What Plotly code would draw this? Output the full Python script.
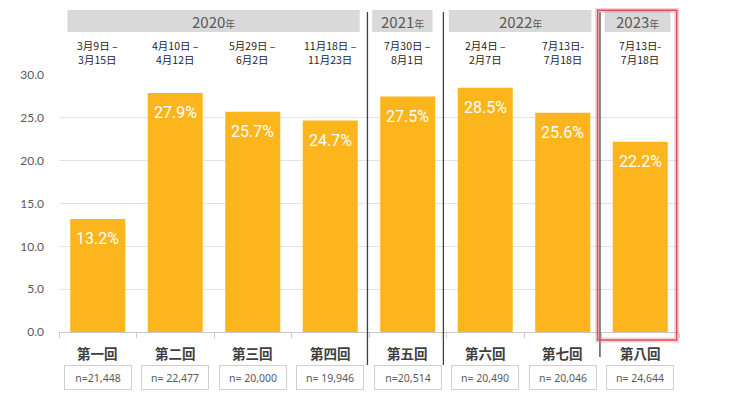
import plotly.graph_objects as go

categories = ["第一回", "第二回", "第三回", "第四回", "第五回", "第六回", "第七回", "第八回"]
values = [13.2, 27.9, 25.7, 24.7, 27.5, 28.5, 25.6, 22.2]
n_labels = ["n=21,448", "n= 22,477", "n= 20,000", "n= 19,946", "n=20,514", "n= 20,490", "n= 20,046", "n= 24,644"]
date_labels = ["3月9日 –<br>3月15日", "4月10日 –<br>4月12日", "5月29日 –<br>6月2日", "11月18日 –<br>11月23日",
               "7月30日 –<br>8月1日", "2月4日 –<br>2月7日", "7月13日-<br>7月18日", "7月13日-<br>7月18日"]
years = ["2020", "2021", "2022", "2023"]

BAR = "#FDB51E"
FONT = "Noto Sans CJK JP"

x_idx = list(range(len(categories)))

fig = go.Figure()
fig.add_trace(go.Bar(
    x=x_idx, y=values, marker_color=BAR, marker_line_width=0,
    hoverinfo="skip", showlegend=False,
))

annotations = []
shapes = []

for i, v in enumerate(values):
    annotations.append(dict(x=i, y=v, xref="x", yref="y", text=f"{v:.1f}%",
                            showarrow=False, yshift=-20, yanchor="middle",
                            font=dict(family="Roboto", size=16, color="white")))
    annotations.append(dict(x=i, y=-0.08, xref="x", yref="paper", text=f"<b>{categories[i]}</b>",
                            showarrow=False, yanchor="middle",
                            font=dict(family=FONT, size=13.5, color="#404040")))
    annotations.append(dict(x=i, y=-0.177, xref="x", yref="paper", text=n_labels[i],
                            showarrow=False, yanchor="middle", width=62, height=19,
                            bordercolor="#d0d0d0", borderwidth=1, borderpad=2,
                            font=dict(family="Noto Sans", size=10.5, color="#595959")))
    annotations.append(dict(x=i, y=1.086, xref="x", yref="paper", text=date_labels[i],
                            showarrow=False, yanchor="middle",
                            font=dict(family=FONT, size=10.5, color="#262626")))

# year header boxes
box_pad = [(-0.39, 3.38), (3.54, 4.32), (4.53, 6.37), (6.54, 7.39)]
for yr, (a, b) in zip(years, box_pad):
    shapes.append(dict(type="rect", xref="x", yref="paper", x0=a, x1=b, y0=1.167, y1=1.253,
                       fillcolor="#d9d9d9", line_width=0, layer="below"))
    annotations.append(dict(x=(a + b) / 2, y=1.21, xref="x", yref="paper",
                            text=f"{yr}<span style='font-size:10px'>年</span>",
                            showarrow=False, yanchor="middle",
                            font=dict(family=FONT, size=15, color="#595959")))

# separators
for xs, y0 in [(3.48, -0.128), (4.46, -0.128), (6.48, -0.097)]:
    shapes.append(dict(type="line", xref="x", yref="paper", x0=xs, x1=xs, y0=y0, y1=1.245,
                       line=dict(color="#404040", width=1.3)))

# red highlight box
shapes.append(dict(type="rect", xref="x", yref="paper", x0=6.45, x1=7.47, y0=-0.031, y1=1.252,
                   line=dict(color="rgba(230,120,130,0.35)", width=5)))
shapes.append(dict(type="rect", xref="x", yref="paper", x0=6.45, x1=7.47, y0=-0.031, y1=1.252,
                   line=dict(color="#d9505e", width=1.5)))

fig.update_layout(
    width=725, height=395,
    margin=dict(l=51, r=54, t=67, b=71),
    paper_bgcolor="white", plot_bgcolor="white",
    bargap=0.29,
    annotations=annotations, shapes=shapes,
    showlegend=False,
)
fig.update_xaxes(range=[-0.5, 7.5], showticklabels=False, showgrid=False,
                 showline=True, linecolor="#c8c8c8", linewidth=1,
                 ticks="outside", tickvals=[i - 0.5 for i in range(9)], ticklen=5, tickcolor="#c8c8c8",
                 zeroline=False, fixedrange=True)
fig.update_yaxes(range=[0, 30], dtick=5, tickformat=".1f", showgrid=True, gridcolor="#e3e3e3",
                 gridwidth=1, zeroline=False, showline=False,
                 ticklabelstandoff=14,
                 tickfont=dict(family="Lato", size=12, color="#595959"), fixedrange=True)

fig.write_html("out.html")
